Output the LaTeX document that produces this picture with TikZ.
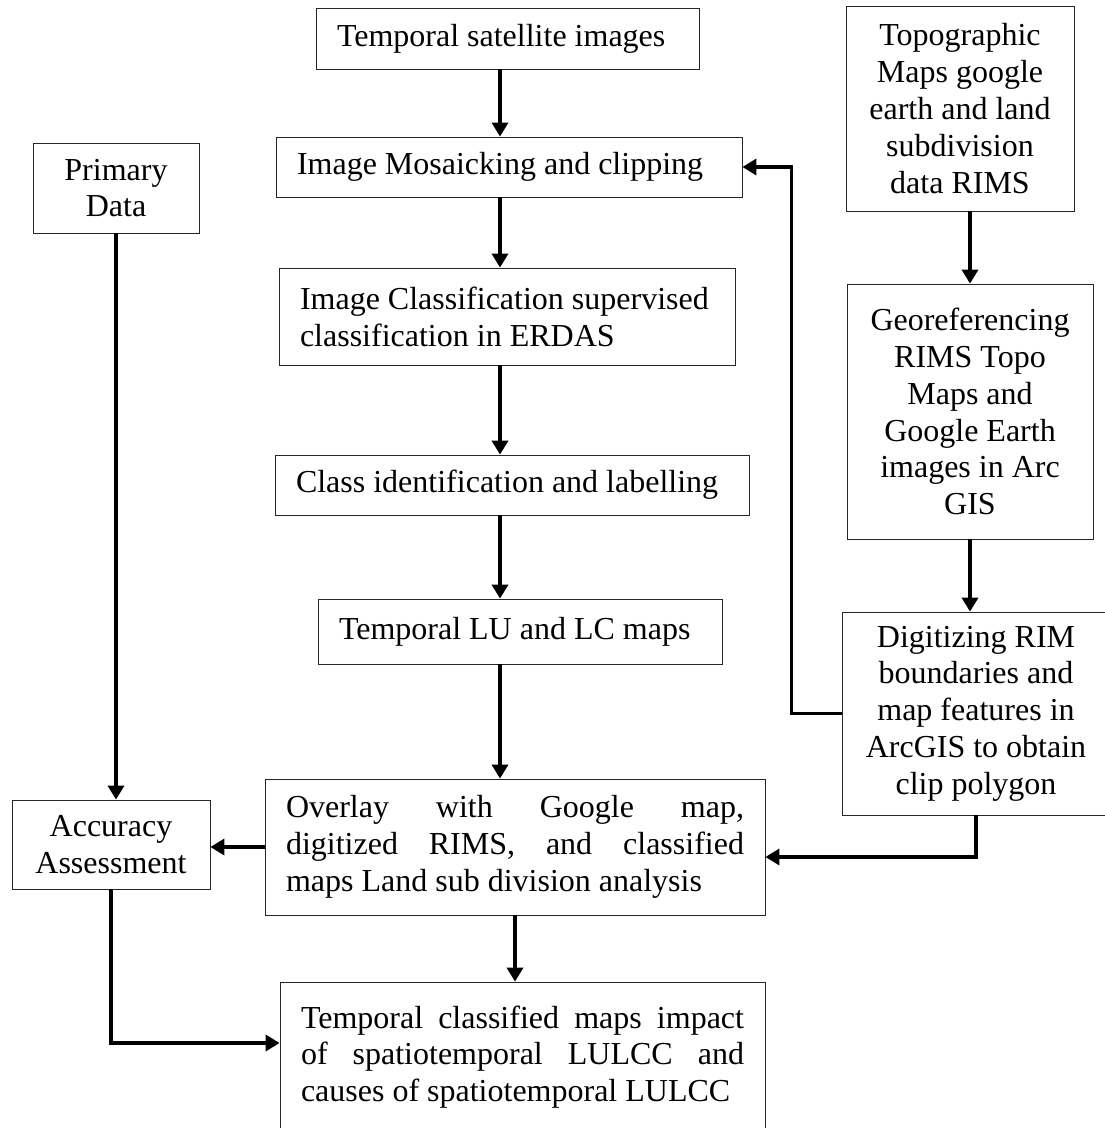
\documentclass[tikz,border=0pt]{standalone}
\usepackage{fontspec}
\setmainfont{Liberation Serif}
\usetikzlibrary{arrows.meta,calc}

\begin{document}
\begin{tikzpicture}[x=0.75pt,y=-0.75pt,
  box/.style={draw=black!85,line width=0.6pt,inner xsep=15.75pt,inner ysep=0pt,
    font=\fontsize{24}{27.6}\selectfont},
  leftbox/.style={box,align=flush left},
  parbox/.style={box,align=justify},
  midbox/.style={box,align=flush center},
  flow/.style={line width=2.6pt,-{Triangle[length=10.5pt,width=12pt]}}]
 \useasboundingbox (0,0) rectangle (1105,1128);
 % middle column
 \node[leftbox,text width=255.75pt,minimum height=45.75pt] (sat) at (507.5,38.5) {Temporal satellite images};
 \node[leftbox,text width=318pt,minimum height=45pt] (mosaic) at (509,167) {Image Mosaicking and clipping};
 \node[leftbox,text width=310.5pt,minimum height=72.75pt] (classif) at (507,316.5) {Image Classification supervised\\classification in ERDAS};
 \node[leftbox,text width=324pt,minimum height=45pt] (classid) at (512,485) {Class identification and labelling};
 \node[leftbox,text width=271.5pt,minimum height=48.75pt] (lulc) at (520,631.5) {Temporal LU and LC maps};
 \node[parbox,text width=343.5pt,minimum height=102pt] (overlay) at (515,847) {Overlay with Google map,\linebreak digitized RIMS, and classified\linebreak maps Land sub division analysis};
 \node[parbox,text width=332.25pt,minimum height=112.5pt] (final) at (522.5,1057) {Temporal classified maps impact\linebreak of spatiotemporal LULCC and\linebreak causes of spatiotemporal LULCC};
 % left column
 \node[midbox,minimum width=124.5pt,minimum height=67.5pt] (primary) at (116,188) {Primary\\Data};
 \node[midbox,minimum width=148.5pt,minimum height=66.75pt] (accuracy) at (111,844.5) {Accuracy\\Assessment};
 % right column
 \node[midbox,minimum width=171pt,minimum height=153.75pt] (topo) at (960,108.5) {Topographic\\Maps google\\earth and land\\subdivision\\data RIMS};
 \node[midbox,minimum width=184.5pt,minimum height=191.25pt] (georef) at (970,411.5) {Georeferencing\\RIMS Topo\\Maps and\\Google Earth\\images in Arc\\GIS};
 \node[midbox,minimum width=201pt,minimum height=152.25pt] (digit) at (976,713.5) {Digitizing RIM\\boundaries and\\map features in\\ArcGIS to obtain\\clip polygon};
 \coordinate (spine) at (500,0);
 \draw[flow] (sat.south -| spine) -- (mosaic.north -| spine);
 \draw[flow] (mosaic.south -| spine) -- (classif.north -| spine);
 \draw[flow] (classif.south -| spine) -- (classid.north -| spine);
 \draw[flow] (classid.south -| spine) -- (lulc.north -| spine);
 \draw[flow] (lulc.south -| spine) -- (overlay.north -| spine);
 \draw[flow] (overlay.south) -- (overlay.south |- final.north);
 \draw[flow] (overlay.west) -- (overlay.west -| accuracy.east);
 \draw[flow] (primary.south) -- (primary.south |- accuracy.north);
 \draw[flow] (accuracy.south) |- ($(final.west)+(0,-14)$);
 \draw[flow] (georef.north |- topo.south) -- (georef.north);
 \draw[flow] (georef.south) -- (georef.south |- digit.north);
 \draw[flow] (digit.west) -- ++(-50,0) |- (mosaic.east);
 \draw[flow] (digit.south) |- ($(overlay.east)+(0,10)$);
\end{tikzpicture}
\end{document}
